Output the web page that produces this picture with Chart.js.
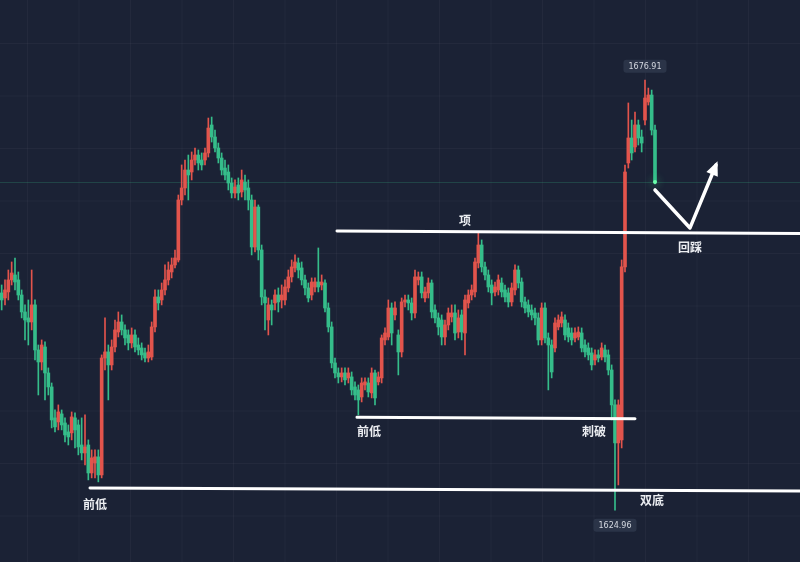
<!DOCTYPE html>
<html>
<head>
<meta charset="utf-8">
<script src="https://cdn.jsdelivr.net/npm/chart.js@4.4.1/dist/chart.umd.min.js"></script>
<style>
  html, body { margin: 0; padding: 0; background: #1b2235; }
  canvas { display: block; }
</style>
</head>
<body>
<canvas id="kline" width="800" height="562"></canvas>
<script>
// candle data (price)
const opens = [
  1651.21, 1650.60, 1651.33, 1652.78, 1653.38, 1652.78, 1650.96, 1648.91, 1648.19, 1647.70,
  1649.76, 1644.32, 1642.87, 1644.68, 1641.54, 1639.85, 1636.11, 1635.62, 1636.59, 1635.50,
  1634.42, 1634.30, 1636.11, 1635.26, 1632.84, 1631.88, 1632.84, 1629.46, 1630.67, 1631.40,
  1629.22, 1643.35, 1644.08, 1642.51, 1644.68, 1646.49, 1647.70, 1646.74, 1646.13, 1645.17,
  1646.13, 1644.92, 1644.56, 1643.96, 1643.35, 1643.47, 1647.10, 1650.72, 1650.36, 1651.57,
  1652.78, 1653.74, 1654.59, 1655.19, 1662.44, 1663.89, 1666.06, 1665.82, 1667.27, 1667.87,
  1667.27, 1667.27, 1668.12, 1671.50, 1670.05, 1668.72, 1667.51, 1666.30, 1665.82, 1664.49,
  1663.29, 1664.25, 1663.41, 1664.61, 1663.89, 1662.44, 1656.76, 1661.59, 1656.40, 1650.72,
  1647.94, 1649.76, 1650.00, 1650.96, 1650.36, 1650.36, 1651.81, 1653.14, 1654.23, 1654.83,
  1654.23, 1652.78, 1651.81, 1650.96, 1651.93, 1652.53, 1652.17, 1652.41, 1649.39, 1647.10,
  1642.75, 1641.54, 1641.06, 1641.54, 1640.94, 1641.06, 1639.85, 1639.49, 1638.64, 1640.09,
  1640.33, 1639.13, 1641.54, 1640.46, 1640.94, 1645.53, 1645.89, 1649.39, 1648.55, 1646.13,
  1644.08, 1650.12, 1650.36, 1650.00, 1648.79, 1652.78, 1653.14, 1650.60, 1651.21, 1652.41,
  1649.15, 1648.19, 1647.94, 1645.89, 1647.34, 1648.31, 1648.79, 1646.49, 1648.55, 1646.37,
  1650.00, 1650.96, 1651.33, 1654.83, 1657.00, 1654.35, 1653.38, 1652.17, 1651.33, 1651.57,
  1652.41, 1651.57, 1651.21, 1650.12, 1651.57, 1653.98, 1652.53, 1650.12, 1649.76, 1649.15,
  1648.79, 1648.19, 1645.53, 1649.39, 1645.77, 1644.92, 1644.56, 1647.10, 1647.58, 1647.94,
  1646.98, 1646.37, 1645.77, 1645.89, 1646.37, 1644.92, 1644.56, 1643.96, 1643.11, 1643.72,
  1643.47, 1644.32, 1643.72, 1641.90, 1637.68, 1633.09, 1633.45, 1654.35, 1666.91, 1669.93,
  1668.84, 1671.50, 1670.05, 1672.10, 1674.28, 1675.12, 1670.89
];
const closes = [
  1650.36, 1651.57, 1652.78, 1653.62, 1652.53, 1650.96, 1648.91, 1647.94, 1647.70, 1649.76,
  1644.32, 1642.87, 1644.92, 1641.54, 1639.85, 1635.86, 1635.02, 1636.83, 1635.26, 1634.05,
  1633.81, 1636.23, 1634.66, 1632.60, 1631.88, 1632.60, 1629.46, 1631.28, 1631.40, 1629.22,
  1643.35, 1644.08, 1642.51, 1644.68, 1646.74, 1647.70, 1646.74, 1645.77, 1645.17, 1646.13,
  1644.68, 1644.32, 1643.72, 1643.35, 1644.08, 1647.10, 1650.72, 1650.00, 1651.57, 1652.78,
  1653.98, 1654.59, 1655.43, 1662.44, 1663.89, 1666.06, 1665.46, 1667.27, 1667.87, 1666.91,
  1666.67, 1668.12, 1671.13, 1670.05, 1668.72, 1667.51, 1666.06, 1665.46, 1664.49, 1663.29,
  1664.01, 1663.29, 1664.86, 1663.65, 1662.44, 1656.76, 1661.59, 1656.40, 1650.72, 1650.00,
  1649.76, 1649.15, 1650.96, 1650.12, 1650.96, 1651.93, 1653.14, 1654.35, 1654.95, 1653.98,
  1652.78, 1651.81, 1650.60, 1652.53, 1652.53, 1651.93, 1652.53, 1649.39, 1647.10, 1642.75,
  1641.54, 1641.06, 1641.54, 1640.70, 1641.54, 1639.49, 1638.88, 1638.28, 1640.33, 1640.46,
  1639.25, 1641.54, 1638.52, 1641.06, 1645.77, 1646.37, 1649.39, 1646.37, 1649.39, 1644.08,
  1650.12, 1650.36, 1650.00, 1648.79, 1653.14, 1653.14, 1651.21, 1651.33, 1652.41, 1648.91,
  1648.19, 1647.10, 1645.89, 1647.34, 1648.79, 1648.79, 1646.37, 1648.19, 1646.49, 1650.36,
  1650.96, 1651.57, 1654.95, 1657.00, 1654.35, 1653.38, 1651.93, 1651.21, 1651.93, 1652.78,
  1651.33, 1650.72, 1650.12, 1651.81, 1653.98, 1652.41, 1650.12, 1649.39, 1648.91, 1648.55,
  1648.19, 1645.53, 1649.39, 1645.77, 1644.92, 1641.66, 1647.58, 1647.94, 1648.31, 1646.13,
  1645.89, 1645.53, 1646.37, 1646.49, 1644.56, 1644.08, 1643.72, 1642.51, 1643.72, 1643.35,
  1644.56, 1643.47, 1641.90, 1637.68, 1633.09, 1637.68, 1654.35, 1665.82, 1669.93, 1668.12,
  1671.50, 1669.93, 1669.32, 1674.76, 1675.12, 1670.89, 1664.61
];
const highs = [
  1652.17, 1652.78, 1653.98, 1654.95, 1655.43, 1653.74, 1651.57, 1649.76, 1650.36, 1653.98,
  1650.36, 1644.92, 1645.53, 1645.29, 1642.15, 1640.33, 1637.07, 1637.68, 1637.07, 1636.11,
  1635.26, 1636.83, 1636.71, 1635.86, 1636.11, 1636.47, 1633.45, 1632.24, 1632.24, 1632.24,
  1643.72, 1648.19, 1644.92, 1645.53, 1647.94, 1648.91, 1648.55, 1647.34, 1646.74, 1646.98,
  1646.74, 1645.77, 1645.17, 1644.56, 1644.92, 1647.70, 1651.57, 1651.57, 1652.41, 1654.59,
  1654.95, 1655.43, 1656.40, 1663.04, 1666.67, 1667.27, 1667.87, 1668.24, 1668.72, 1668.48,
  1668.12, 1668.72, 1672.34, 1672.46, 1670.89, 1669.32, 1668.12, 1667.27, 1666.67, 1665.10,
  1664.86, 1665.10, 1666.06, 1665.46, 1664.86, 1663.04, 1662.44, 1661.84, 1657.00, 1651.57,
  1650.60, 1650.36, 1651.57, 1651.81, 1652.17, 1652.78, 1653.98, 1655.19, 1655.80, 1655.43,
  1654.95, 1653.38, 1652.41, 1653.02, 1653.02, 1656.64, 1653.38, 1652.78, 1650.00, 1647.70,
  1643.35, 1642.15, 1642.15, 1642.15, 1642.15, 1641.66, 1640.46, 1640.09, 1640.94, 1640.94,
  1640.94, 1642.15, 1641.90, 1641.66, 1646.13, 1646.98, 1650.36, 1650.00, 1650.12, 1646.74,
  1650.60, 1650.96, 1650.96, 1650.60, 1653.98, 1653.74, 1653.74, 1651.93, 1653.02, 1652.78,
  1649.76, 1648.79, 1648.55, 1647.94, 1649.39, 1649.76, 1649.76, 1649.15, 1649.15, 1650.96,
  1651.57, 1652.17, 1655.43, 1658.45, 1657.61, 1654.95, 1653.98, 1652.78, 1652.53, 1653.38,
  1653.02, 1652.17, 1651.81, 1652.41, 1654.59, 1654.47, 1653.02, 1650.72, 1650.36, 1649.76,
  1649.39, 1648.79, 1650.00, 1650.00, 1646.37, 1645.53, 1648.19, 1648.55, 1648.91, 1648.55,
  1647.58, 1646.98, 1646.98, 1647.10, 1646.98, 1645.53, 1645.17, 1644.56, 1644.32, 1644.32,
  1645.17, 1644.92, 1644.32, 1642.51, 1638.28, 1638.28, 1655.19, 1666.67, 1674.16, 1672.10,
  1673.07, 1672.10, 1670.89, 1676.91, 1675.96, 1675.72, 1671.50
];
const lows = [
  1649.15, 1649.76, 1650.36, 1652.17, 1651.57, 1650.36, 1648.19, 1645.53, 1644.92, 1646.74,
  1643.11, 1638.88, 1641.90, 1638.28, 1638.88, 1634.90, 1634.42, 1634.66, 1634.66, 1633.21,
  1632.84, 1633.45, 1632.48, 1631.64, 1631.03, 1630.43, 1628.62, 1628.86, 1628.86, 1628.38,
  1628.86, 1641.90, 1638.28, 1641.90, 1644.08, 1645.89, 1646.13, 1644.92, 1644.32, 1644.56,
  1644.08, 1643.72, 1643.11, 1642.87, 1642.87, 1643.11, 1646.49, 1649.15, 1649.76, 1650.96,
  1652.17, 1653.02, 1654.23, 1654.95, 1661.84, 1663.04, 1662.44, 1664.86, 1666.67, 1666.06,
  1666.06, 1666.67, 1667.63, 1669.44, 1668.24, 1666.91, 1665.46, 1664.86, 1663.65, 1662.68,
  1662.68, 1662.44, 1662.80, 1662.44, 1661.23, 1655.80, 1656.16, 1655.19, 1649.76, 1646.74,
  1646.13, 1647.34, 1649.15, 1648.91, 1649.39, 1649.76, 1651.33, 1652.53, 1653.74, 1653.02,
  1652.17, 1650.96, 1650.12, 1650.36, 1651.33, 1651.33, 1651.57, 1648.91, 1646.49, 1642.15,
  1640.94, 1640.33, 1640.46, 1640.09, 1640.33, 1638.88, 1638.28, 1636.47, 1638.04, 1639.49,
  1638.64, 1638.52, 1637.68, 1640.09, 1640.33, 1644.92, 1645.53, 1644.92, 1647.94, 1641.30,
  1643.47, 1649.51, 1649.15, 1647.94, 1648.19, 1652.17, 1650.60, 1650.12, 1650.60, 1648.19,
  1647.58, 1646.13, 1644.92, 1644.92, 1646.74, 1647.70, 1645.53, 1645.77, 1645.53, 1643.72,
  1649.39, 1650.36, 1650.72, 1654.23, 1653.74, 1652.78, 1651.33, 1649.76, 1650.84, 1650.96,
  1650.72, 1650.12, 1649.51, 1649.63, 1650.96, 1651.81, 1649.51, 1648.79, 1648.31, 1647.94,
  1647.34, 1644.92, 1644.92, 1645.17, 1639.49, 1640.94, 1644.08, 1646.74, 1647.10, 1645.53,
  1645.29, 1644.92, 1645.29, 1645.53, 1644.08, 1643.47, 1643.11, 1641.90, 1642.51, 1642.87,
  1643.11, 1642.87, 1641.30, 1635.86, 1624.96, 1628.01, 1632.48, 1653.74, 1666.30, 1667.27,
  1668.24, 1669.08, 1668.24, 1671.50, 1673.91, 1670.29, 1664.37
];

// empty room to the right of the last candle
const slotCount = 240;
const priceMin = 1618.7;
const priceMax = 1686.6;

// hand drawn levels: [fromSlot, fromPrice, toSlot, toPrice]
const levelLines = [
  [100.6, 1658.70, 239.5, 1658.40],
  [106.6, 1636.20, 190.0, 1636.00],
  [26.5, 1627.65, 239.5, 1627.29]
];
// pullback arrow: [slot, price]
const arrowPath = [[196.0, 1663.65], [206.5, 1659.06], [214.3, 1666.67]];
// notes: [text, slot, price]
const notes = [
  ['项', 139.0, 1660.00],
  ['前低', 110.2, 1634.42],
  ['刺破', 177.7, 1634.42],
  ['前低', 28.0, 1625.60],
  ['双底', 195.1, 1626.08],
  ['回踩', 206.5, 1656.76]
];

const UP = '#e2544c';
const DOWN = '#35bd8a';
const slots = [];
for (let i = 0; i < slotCount; i++) slots.push(String(i));
const colors = opens.map((o, i) => closes[i] >= o ? UP : DOWN);

const backdrop = {
  id: 'backdrop',
  beforeDraw(chart) {
    const { ctx, width, height } = chart;
    ctx.save();
    ctx.fillStyle = '#1b2235';
    ctx.fillRect(0, 0, width, height);
    ctx.lineWidth = 1;
    ctx.strokeStyle = 'rgba(255,255,255,0.035)';
    for (let x = 27.5; x < width; x += 51.5) {
      ctx.beginPath(); ctx.moveTo(x, 0); ctx.lineTo(x, height); ctx.stroke();
    }
    for (let y = 43.5; y < height; y += 52.5) {
      ctx.beginPath(); ctx.moveTo(0, y); ctx.lineTo(width, y); ctx.stroke();
    }
    ctx.restore();
  },
  beforeDatasetsDraw(chart) {
    // current price line
    const { ctx, chartArea } = chart;
    const y = chart.scales.y.getPixelForValue(closes[closes.length - 1]);
    ctx.save();
    ctx.strokeStyle = 'rgba(53,189,138,0.22)';
    ctx.lineWidth = 1;
    ctx.beginPath();
    ctx.moveTo(chartArea.left, Math.round(y) + 0.5);
    ctx.lineTo(chartArea.right, Math.round(y) + 0.5);
    ctx.stroke();
    ctx.restore();
  }
};

function priceTag(ctx, text, x, y) {
  ctx.font = '8px "DejaVu Sans"';
  const w = ctx.measureText(text).width + 10;
  const h = 13;
  ctx.fillStyle = '#2b3448';
  ctx.beginPath();
  ctx.roundRect(x - w / 2, y - h / 2, w, h, 3);
  ctx.fill();
  ctx.fillStyle = '#d4d8e0';
  ctx.textAlign = 'center';
  ctx.textBaseline = 'middle';
  ctx.fillText(text, x, y + 0.5);
}

const markup = {
  id: 'markup',
  afterDatasetsDraw(chart) {
    const { ctx } = chart;
    const xs = chart.scales.x, ys = chart.scales.y;
    const px = s => xs.getPixelForValue(s);
    const py = p => ys.getPixelForValue(p);
    ctx.save();

    // last price glow
    const last = closes.length - 1;
    ctx.shadowColor = '#4dff9a';
    ctx.shadowBlur = 8;
    ctx.fillStyle = '#6dffac';
    ctx.beginPath();
    ctx.arc(px(last), py(closes[last]), 2, 0, Math.PI * 2);
    ctx.fill();
    ctx.shadowBlur = 0;

    // level lines
    ctx.strokeStyle = '#ffffff';
    ctx.lineWidth = 3;
    ctx.lineCap = 'round';
    levelLines.forEach(l => {
      ctx.beginPath();
      ctx.moveTo(px(l[0]), py(l[1]));
      ctx.lineTo(px(l[2]), py(l[3]));
      ctx.stroke();
    });

    // arrow
    ctx.lineWidth = 3.5;
    ctx.lineJoin = 'round';
    ctx.beginPath();
    arrowPath.forEach((p, i) => {
      const x = px(p[0]), y = py(p[1]);
      if (i === 0) ctx.moveTo(x, y); else ctx.lineTo(x, y);
    });
    ctx.stroke();
    const a = arrowPath[arrowPath.length - 2], b = arrowPath[arrowPath.length - 1];
    const ax = px(a[0]), ay = py(a[1]), bx = px(b[0]), by = py(b[1]);
    const ang = Math.atan2(by - ay, bx - ax);
    ctx.fillStyle = '#ffffff';
    ctx.beginPath();
    ctx.moveTo(bx + Math.cos(ang) * 4, by + Math.sin(ang) * 4);
    ctx.lineTo(bx + Math.cos(ang + 2.6) * 12, by + Math.sin(ang + 2.6) * 12);
    ctx.lineTo(bx + Math.cos(ang - 2.6) * 12, by + Math.sin(ang - 2.6) * 12);
    ctx.closePath();
    ctx.fill();

    // notes
    ctx.font = 'bold 12px "Noto Sans CJK SC"';
    ctx.fillStyle = '#eceef2';
    ctx.textAlign = 'center';
    ctx.textBaseline = 'middle';
    notes.forEach(n => ctx.fillText(n[0], px(n[1]), py(n[2])));

    // high / low tags
    const hi = highs.indexOf(Math.max(...highs));
    const lo = lows.indexOf(Math.min(...lows));
    priceTag(ctx, highs[hi].toFixed(2), px(hi), py(highs[hi]) - 14);
    priceTag(ctx, lows[lo].toFixed(2), px(lo), py(lows[lo]) + 15);
    ctx.restore();
  }
};

new Chart(document.getElementById('kline'), {
  type: 'bar',
  data: {
    labels: slots,
    datasets: [
      {
        label: 'body',
        data: opens.map((o, i) => [o, closes[i]]),
        backgroundColor: colors,
        barThickness: 3,
        minBarLength: 1,
        grouped: false,
        order: 0
      },
      {
        label: 'wick',
        data: lows.map((l, i) => [l, highs[i]]),
        backgroundColor: colors,
        barThickness: 1,
        grouped: false,
        order: 1
      }
    ]
  },
  options: {
    responsive: false,
    animation: false,
    devicePixelRatio: 1,
    layout: { padding: 0 },
    plugins: { legend: { display: false }, tooltip: { enabled: false } },
    scales: {
      x: { display: false },
      y: { display: false, min: priceMin, max: priceMax }
    }
  },
  plugins: [backdrop, markup]
});
</script>
</body>
</html>
